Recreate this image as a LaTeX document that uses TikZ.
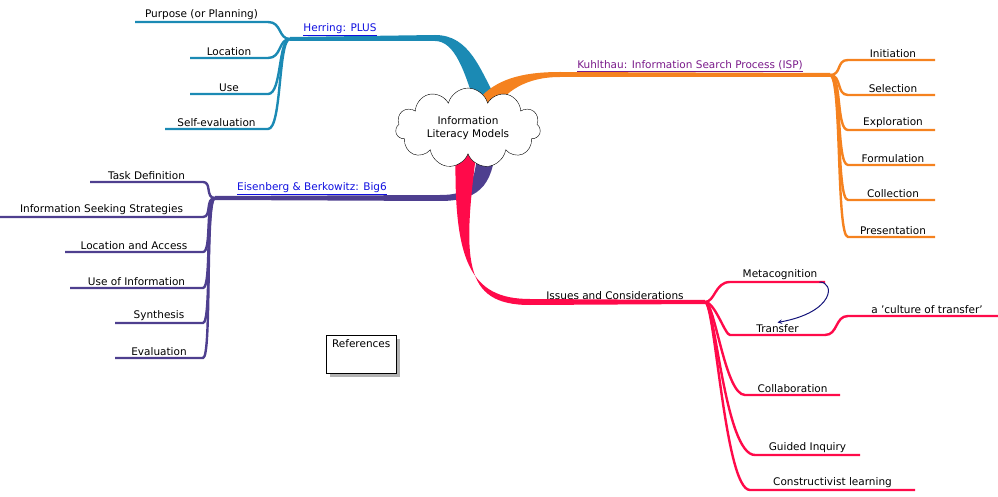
\documentclass[tikz,border=0pt]{standalone}
\usepackage{fontspec}
\setmainfont{DejaVu Sans}
\usetikzlibrary{shapes.symbols,positioning}
\definecolor{herring}{HTML}{1B8AB4}
\definecolor{kuhl}{HTML}{F5821F}
\definecolor{bigsix}{HTML}{4E3F8F}
\definecolor{issue}{HTML}{FF0A4A}
\definecolor{linkblue}{HTML}{1010E0}
\definecolor{linkpurple}{HTML}{7A1A8A}
\definecolor{loopnavy}{HTML}{14147A}
\tikzset{
  leaf/.style={font=\fontsize{10.5}{12}\selectfont, anchor=south, inner sep=2pt},
  link/.style={leaf, text=linkblue},
  twig/.style={line width=2.4pt},
}
\begin{document}
\begin{tikzpicture}[x=1pt,y=-1pt]
\useasboundingbox (0,0) rectangle (998,497);

% trunks
\fill[herring] (290,37) -- (435,35) .. controls (470,35) and (480,70) .. (497,100)
  -- (476,108) .. controls (465,72) and (455,41) .. (435,41) -- (290,41) -- cycle;
\fill[kuhl] (478,100) .. controls (495,80) and (520,72) .. (560,72) -- (830,73)
  -- (830,77) -- (560,77) .. controls (525,77) and (505,92) .. (494,110) -- cycle;
\fill[bigsix] (478,140) .. controls (476,185) and (470,195) .. (440,195) -- (215,196)
  -- (215,200) -- (440,201) .. controls (484,201) and (494,180) .. (496,140) -- cycle;
\fill[issue] (456,140) .. controls (452,262) and (470,299) .. (530,299) -- (705,300)
  -- (705,304) -- (530,305) .. controls (462,305) and (462,260) .. (478,140) -- cycle;

% centre
\node[cloud, draw, fill=white, cloud puffs=11, aspect=2.3, minimum width=145, minimum height=68,
  align=center, font=\fontsize{10.5}{13}\selectfont] (centre) at (468,128)
  {Information\\Literacy Models};

% branch labels
\node[link] (plus) at (340,38) {\underline{Herring: PLUS}};
\node[leaf, text=linkpurple] (isp) at (690,74) {\underline{Kuhlthau: Information Search Process (ISP)}};
\node[link] (big6) at (312,197) {\underline{Eisenberg \& Berkowitz: Big6}};
\node[leaf] (issues) at (615,302) {Issues and Considerations};

% Herring
\coordinate (hh) at (290,39);
\foreach \y/\x/\t/\n in {22/135/Purpose (or Planning)/h1, 58/190/Location/h2, 94/190/Use/h3, 129/165/Self-evaluation/h4}{
  \draw[herring, twig] (hh) .. controls (278,39) and (282,\y) .. (268,\y) -- (\x,\y);
  \node[leaf] (\n) at ({(\x+268)/2},\y) {\t};
}
% Kuhlthau
\coordinate (kh) at (830,75);
\foreach \y/\t/\n in {60/Initiation/k1, 95/Selection/k2, 130/Exploration/k3, 165/Formulation/k4, 200/Collection/k5, 237/Presentation/k6}{
  \draw[kuhl, twig] (kh) .. controls (842,75) and (836,\y) .. (848,\y) -- (935,\y);
  \node[leaf] (\n) at (893,\y) {\t};
}
% Big6
\coordinate (bh) at (215,198);
\foreach \y/\x/\t/\n in {182/90/Task Definition/b1, 217/0/Information Seeking Strategies/b2, 252/65/Location and Access/b3, 288/70/Use of Information/b4, 323/115/Synthesis/b5, 358/115/Evaluation/b6}{
  \draw[bigsix, twig] (bh) .. controls (205,198) and (212,\y) .. (203,\y) -- (\x,\y);
  \node[leaf] (\n) at ({(\x+203)/2},\y) {\t};
}
% Issues
\coordinate (ih) at (705,302);
\draw[issue, twig] (ih) .. controls (715,302) and (715,282) .. (730,282) -- (825,282);
\node[leaf] (meta) at (780,282) {Metacognition};
\foreach \y/\xa/\xb/\t/\n in {335/730/825/Transfer/trans, 395/745/840/Collaboration/coll, 455/755/860/Guided Inquiry/guid, 490/750/915/Constructivist learning/cons}{
  \draw[issue, twig] (ih) .. controls (715,302) and (725,\y) .. (\xa,\y) -- (\xb,\y);
  \node[leaf] (\n) at ({(\xa+\xb)/2},\y) {\t};
}
\draw[issue, twig] (825,335) .. controls (838,335) and (835,316) .. (848,316) -- (998,316);
\node[leaf] (cult) at (927,316) {a 'culture of transfer'};
\draw[loopnavy, line width=1pt, ->, >=stealth] (meta.south east) .. controls (835,282) and (835,312) .. (trans.north);

% references
\fill[gray!60] (330,339) rectangle (400,377);
\node[draw, fill=white, minimum width=70, minimum height=38, anchor=north west,
  font=\fontsize{10.5}{12}\selectfont, align=center]
  (refs) at (326,335) {References\\[10pt]};
\end{tikzpicture}
\end{document}
